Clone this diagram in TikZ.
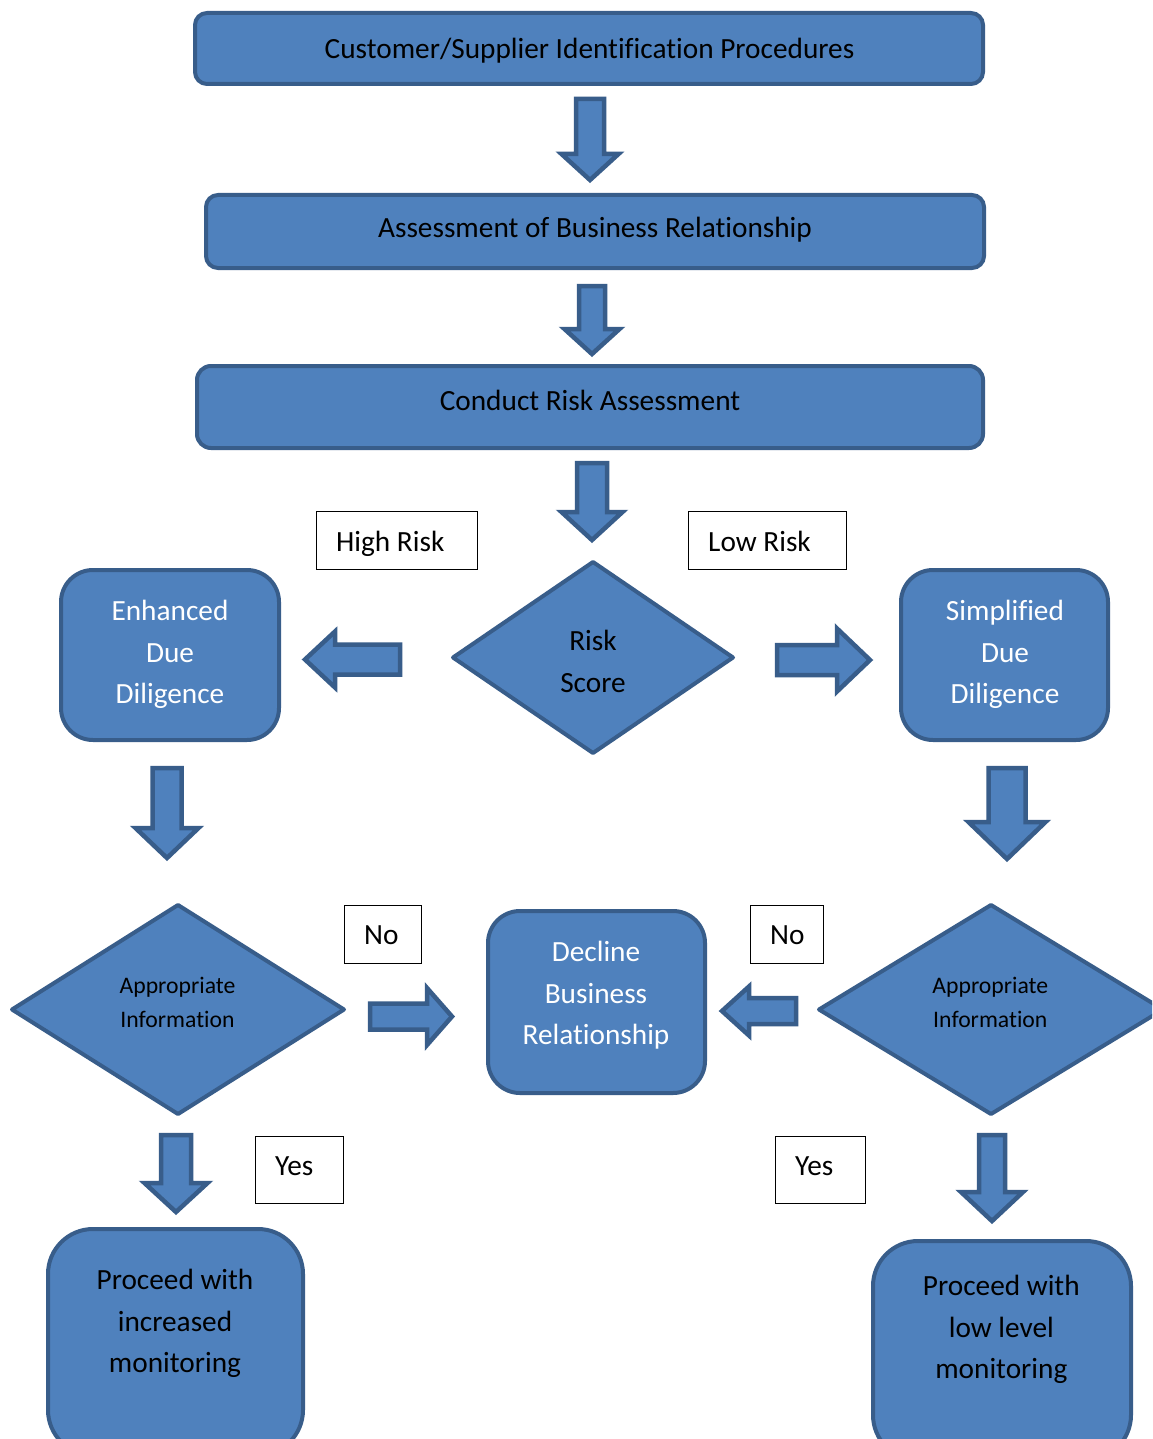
\documentclass[tikz,border=0pt]{standalone}
\usepackage{fontspec}
\setmainfont{Carlito}[Ligatures=NoCommon]
\usetikzlibrary{shapes.geometric}
\definecolor{boxfill}{HTML}{4F81BD}
\definecolor{boxline}{HTML}{385D8A}
\newcommand\fmain{\fontsize{29.3}{41.5}\selectfont}
\newcommand\frisk{\fontsize{29.3}{42}\selectfont}
\newcommand\fsmall{\fontsize{23.7}{34}\selectfont}
% down block arrow: cx, ytop, yhead, ytip, shaft half, head half
\newcommand\darrow[6]{%
  \draw[barrow] ({#1-#5},#2) -- ({#1+#5},#2) -- ({#1+#5},#3) -- ({#1+#6},#3)
    -- (#1,#4) -- ({#1-#6},#3) -- ({#1-#5},#3) -- cycle;}
% horizontal block arrow: cy, xtail, xhead, xtip, shaft half, head half
\newcommand\harrow[6]{%
  \draw[barrow] (#2,{#1-#5}) -- (#3,{#1-#5}) -- (#3,{#1-#6}) -- (#4,#1)
    -- (#3,{#1+#6}) -- (#3,{#1+#5}) -- (#2,{#1+#5}) -- cycle;}
\tikzset{
  shapebase/.style={fill=boxfill, draw=boxline, line width=4pt, inner sep=0pt, outer sep=0pt},
  flowbox/.style={shapebase, rectangle, rounded corners=#1},
  flowbox/.default=12pt,
  decision/.style={shapebase, diamond, line join=round},
  barrow/.style={fill=boxfill, draw=boxline, line width=4.5pt, line join=miter},
  tag/.style={draw=black, line width=1.5pt, fill=white, rectangle, inner sep=0pt},
  txt/.style={inner sep=0pt, font=\fmain, text=black},
  wtxt/.style={txt, text=white},
}
\begin{document}
\begin{tikzpicture}[x=1pt, y=-1pt]
\useasboundingbox (0,0) rectangle (1152,1439);
\fill[white] (0,0) rectangle (1152,1439);
\clip (0,0) rectangle (1152,1439);

% main boxes
\node[flowbox=12pt, minimum width=788pt, minimum height=71pt] (idproc) at (589,48.5) {};
\node[flowbox=12pt, minimum width=778pt, minimum height=73pt] (assess) at (595,231.5) {};
\node[flowbox=14pt, minimum width=786pt, minimum height=82pt] (conduct) at (590,407) {};
\node[decision, minimum width=280pt, minimum height=191pt] (risk) at (593,657.5) {};
\node[flowbox=32pt, minimum width=218pt, minimum height=170pt] (enh) at (170,655) {};
\node[flowbox=32pt, minimum width=207pt, minimum height=170pt] (simp) at (1004.5,655) {};
\node[decision, minimum width=332pt, minimum height=209pt] (infoL) at (178,1009.5) {};
\node[decision, minimum width=344pt, minimum height=209pt] (infoR) at (991,1009.5) {};
\node[flowbox=32pt, minimum width=217pt, minimum height=182pt] (decline) at (596.5,1002) {};
\node[flowbox=45pt, minimum width=255pt, minimum height=226pt] (procInc) at (175.5,1342) {};
\node[flowbox=45pt, minimum width=258pt, minimum height=219pt] (procLow) at (1002,1350.5) {};

% label tags
\node[tag, minimum width=161pt, minimum height=58pt] (highTag) at (397,540.5) {};
\node[tag, minimum width=158pt, minimum height=58pt] (lowTag) at (767.5,540.5) {};
\node[tag, minimum width=77pt, minimum height=58pt] (noTagL) at (383,934.5) {};
\node[tag, minimum width=73pt, minimum height=58pt] (noTagR) at (787,934.5) {};
\node[tag, minimum width=88pt, minimum height=67pt] (yesTagL) at (299.5,1170) {};
\node[tag, minimum width=90pt, minimum height=67pt] (yesTagR) at (820.5,1170) {};

% block arrows
\darrow{590}{99}{154}{180}{14}{28.5}
\darrow{592}{286}{329}{354}{13}{27.5}
\darrow{592}{463}{512}{540}{15}{30.5}
\harrow{659.5}{400}{335}{305}{15}{28}
\harrow{660}{777}{837}{870}{15}{31.5}
\darrow{167}{768}{828}{858}{14.5}{31.5}
\darrow{1007}{768}{822}{859}{18.5}{38.5}
\harrow{1016.5}{370}{427}{452}{13}{28.5}
\harrow{1011}{796}{749}{722}{13}{24.5}
\darrow{176}{1135}{1183}{1212}{15}{31.5}
\darrow{992}{1135}{1192}{1221}{13}{31}

% texts
\node[txt, anchor=base] (tIdproc) at (589.5,59) {Customer/Supplier Identification Procedures};
\node[txt, anchor=base] (tAssess) at (595,238) {Assessment of Business Relationship};
\node[txt, anchor=base] (tConduct) at (590,410) {Conduct Risk Assessment};
\node[txt, font=\frisk, align=center] (tRisk) at (593,663) {\strut Risk\\\strut Score};
\node[wtxt, align=center] (tEnh) at (170,654) {\strut Enhanced\\\strut Due\\\strut Diligence};
\node[wtxt, align=center] (tSimp) at (1005,654) {\strut Simplified\\\strut Due\\\strut Diligence};
\node[wtxt, align=center] (tDecline) at (596,995) {\strut Decline\\\strut Business\\\strut Relationship};
\node[txt, font=\fsmall, align=center] (tInfoL) at (177.5,1003.2) {\strut Appropriate\\\strut Information};
\node[txt, font=\fsmall, align=center] (tInfoR) at (990.3,1003.2) {\strut Appropriate\\\strut Information};
\node[txt, align=center] (tProcInc) at (175,1323) {\strut Proceed with\\\strut increased\\\strut monitoring};
\node[txt, align=center] (tProcLow) at (1001.3,1329) {\strut Proceed with\\\strut low level\\\strut monitoring};

\node[txt, anchor=base west] (tHigh) at (336,551) {High Risk};
\node[txt, anchor=base west] (tLow) at (708,551) {Low Risk};
\node[txt, anchor=base west] (tNoL) at (364,944) {No};
\node[txt, anchor=base west] (tNoR) at (770,944) {No};
\node[txt, anchor=base west] (tYesL) at (275,1175) {Yes};
\node[txt, anchor=base west] (tYesR) at (795,1175) {Yes};
\end{tikzpicture}
\end{document}
